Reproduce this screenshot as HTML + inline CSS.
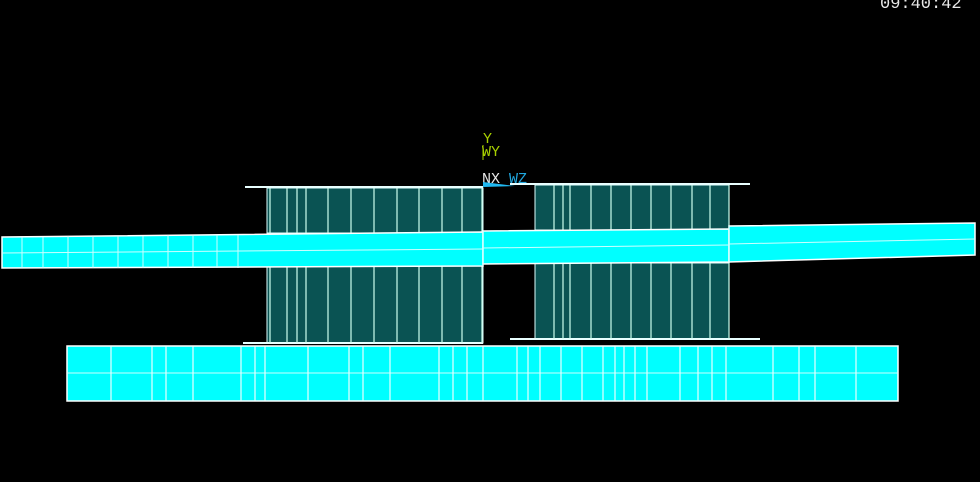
<!DOCTYPE html>
<html><head><meta charset="utf-8"><style>
html,body{margin:0;padding:0;background:#000;width:980px;height:482px;overflow:hidden}
svg{display:block}
</style></head><body>
<svg width="980" height="482" viewBox="0 0 980 482" xmlns="http://www.w3.org/2000/svg">
<rect width="980" height="482" fill="#000"/>
<text x="880" y="8" font-family="Liberation Mono, monospace" font-size="17" fill="#e8e8e8">09:40:42</text>

<!-- left column block -->
<rect x="267" y="188" width="216" height="45" fill="#0a5353" stroke="#dff" stroke-width="1"/>
<rect x="267" y="265" width="216" height="78" fill="#0a5353" stroke="#dff" stroke-width="1"/>
<line x1="245" y1="187" x2="483" y2="187" stroke="#e8ffff" stroke-width="2"/>
<line x1="243" y1="343" x2="483" y2="343" stroke="#e8ffff" stroke-width="2"/>
<g stroke="#cfe" stroke-width="1.2">
<line x1="270" y1="188" x2="270" y2="343"/><line x1="287" y1="188" x2="287" y2="343"/>
<line x1="297" y1="188" x2="297" y2="343"/><line x1="306" y1="188" x2="306" y2="343"/>
<line x1="328" y1="188" x2="328" y2="343"/><line x1="351" y1="188" x2="351" y2="343"/>
<line x1="374" y1="188" x2="374" y2="343"/><line x1="397" y1="188" x2="397" y2="343"/>
<line x1="419" y1="188" x2="419" y2="343"/><line x1="442" y1="188" x2="442" y2="343"/>
<line x1="462" y1="188" x2="462" y2="343"/><line x1="482" y1="188" x2="482" y2="343"/>
</g>

<!-- right column block -->
<rect x="535" y="185" width="194" height="45" fill="#0a5353" stroke="#dff" stroke-width="1"/>
<rect x="535" y="263" width="194" height="76" fill="#0a5353" stroke="#dff" stroke-width="1"/>
<line x1="510" y1="184" x2="750" y2="184" stroke="#e8ffff" stroke-width="2"/>
<line x1="510" y1="339" x2="760" y2="339" stroke="#e8ffff" stroke-width="2"/>
<g stroke="#cfe" stroke-width="1.2">
<line x1="554" y1="185" x2="554" y2="339"/><line x1="563" y1="185" x2="563" y2="339"/>
<line x1="570" y1="185" x2="570" y2="339"/><line x1="591" y1="185" x2="591" y2="339"/>
<line x1="611" y1="185" x2="611" y2="339"/><line x1="631" y1="185" x2="631" y2="339"/>
<line x1="651" y1="185" x2="651" y2="339"/><line x1="671" y1="185" x2="671" y2="339"/>
<line x1="692" y1="185" x2="692" y2="339"/><line x1="710" y1="185" x2="710" y2="339"/>
<line x1="729" y1="185" x2="729" y2="339"/>
</g>

<!-- beam -->
<polygon points="2,237 483,232 483,266 2,268" fill="#00ffff" stroke="#fff" stroke-width="1.5"/>
<polygon points="483,231 729,229 729,262 483,264" fill="#00ffff" stroke="#fff" stroke-width="1.5"/>
<polygon points="729,226 975,223 975,255 729,262" fill="#00ffff" stroke="#fff" stroke-width="1.5"/>
<g stroke="#cff" stroke-width="1">
<line x1="2" y1="253" x2="483" y2="249"/><line x1="483" y1="248" x2="729" y2="245"/>
<line x1="729" y1="244" x2="975" y2="239"/>
<line x1="22" y1="237" x2="22" y2="268"/><line x1="43" y1="237" x2="43" y2="268"/>
<line x1="68" y1="236" x2="68" y2="268"/><line x1="93" y1="236" x2="93" y2="268"/>
<line x1="118" y1="236" x2="118" y2="268"/><line x1="143" y1="236" x2="143" y2="268"/>
<line x1="168" y1="235" x2="168" y2="268"/><line x1="193" y1="235" x2="193" y2="268"/>
<line x1="217" y1="235" x2="217" y2="268"/><line x1="238" y1="235" x2="238" y2="268"/>
<line x1="483" y1="231" x2="483" y2="266"/><line x1="729" y1="226" x2="729" y2="262"/>
</g>

<!-- bottom slab -->
<rect x="67" y="346" width="831" height="55" fill="#00ffff" stroke="#fff" stroke-width="1.5"/>
<line x1="67" y1="373" x2="898" y2="373" stroke="#cff" stroke-width="1"/>
<g stroke="#e8ffff" stroke-width="1.2">
<line x1="111" y1="346" x2="111" y2="401"/><line x1="152" y1="346" x2="152" y2="401"/>
<line x1="166" y1="346" x2="166" y2="401"/><line x1="193" y1="346" x2="193" y2="401"/>
<line x1="241" y1="346" x2="241" y2="401"/><line x1="255" y1="346" x2="255" y2="401"/>
<line x1="265" y1="346" x2="265" y2="401"/><line x1="308" y1="346" x2="308" y2="401"/>
<line x1="349" y1="346" x2="349" y2="401"/><line x1="363" y1="346" x2="363" y2="401"/>
<line x1="390" y1="346" x2="390" y2="401"/><line x1="439" y1="346" x2="439" y2="401"/>
<line x1="453" y1="346" x2="453" y2="401"/><line x1="467" y1="346" x2="467" y2="401"/>
<line x1="483" y1="346" x2="483" y2="401"/><line x1="517" y1="346" x2="517" y2="401"/>
<line x1="528" y1="346" x2="528" y2="401"/><line x1="540" y1="346" x2="540" y2="401"/>
<line x1="561" y1="346" x2="561" y2="401"/><line x1="582" y1="346" x2="582" y2="401"/>
<line x1="603" y1="346" x2="603" y2="401"/><line x1="615" y1="346" x2="615" y2="401"/>
<line x1="624" y1="346" x2="624" y2="401"/><line x1="635" y1="346" x2="635" y2="401"/>
<line x1="647" y1="346" x2="647" y2="401"/><line x1="680" y1="346" x2="680" y2="401"/>
<line x1="698" y1="346" x2="698" y2="401"/><line x1="712" y1="346" x2="712" y2="401"/>
<line x1="726" y1="346" x2="726" y2="401"/><line x1="773" y1="346" x2="773" y2="401"/>
<line x1="799" y1="346" x2="799" y2="401"/><line x1="815" y1="346" x2="815" y2="401"/>
<line x1="856" y1="346" x2="856" y2="401"/>
</g>

<!-- triad -->
<text x="483" y="143" font-family="Liberation Mono, monospace" font-size="15" fill="#a8d000">Y</text>
<text x="482" y="156" font-family="Liberation Mono, monospace" font-size="15" fill="#a8d000">WY</text>
<line x1="483" y1="145" x2="483" y2="160" stroke="#a8d000" stroke-width="1"/>
<text x="482" y="183" font-family="Liberation Mono, monospace" font-size="15" fill="#e8e8e8">NX</text>
<text x="509" y="183" font-family="Liberation Mono, monospace" font-size="15" fill="#20a8e0">WZ</text>
<polygon points="483,182 483,187 515,186" fill="#20b8f0"/>
</svg>
</body></html>
